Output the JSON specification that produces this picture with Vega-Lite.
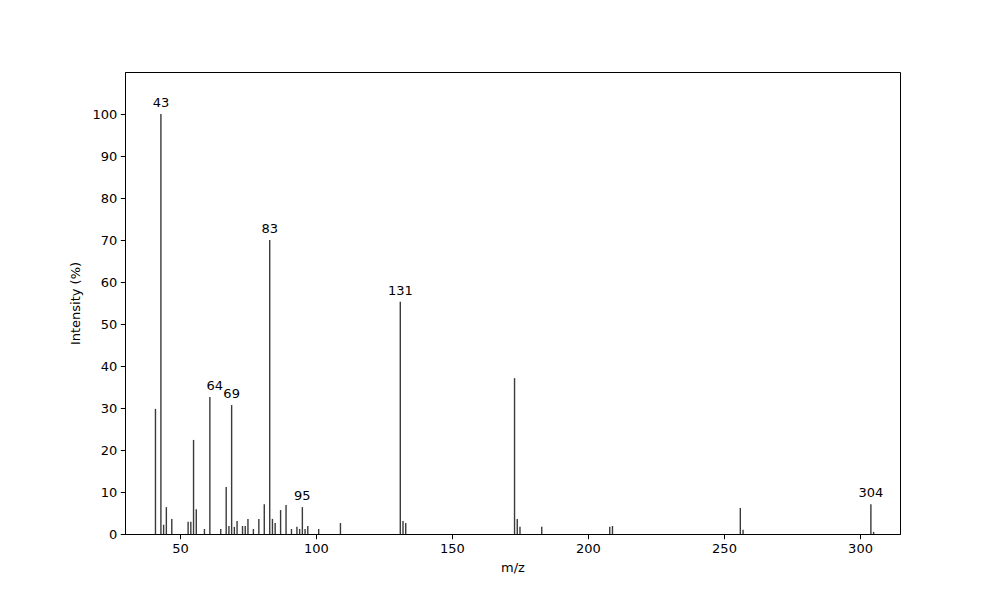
{
  "$schema": "https://vega.github.io/schema/vega-lite/v6.json",
  "description": "Mass spectrum, m/z vs relative intensity",
  "autosize": {"type": "none"},
  "padding": {"left": 125, "top": 72, "right": 100, "bottom": 66},
  "width": 775,
  "height": 462,
  "background": "white",
  "config": {
    "font": "DejaVu Sans",
    "view": {"stroke": "black", "strokeWidth": 1},
    "axis": {
      "grid": false,
      "domainColor": "black",
      "tickColor": "black",
      "tickSize": 4.7,
      "labelPadding": 3.5,
      "labelFontSize": 13,
      "labelColor": "black",
      "titleFontSize": 13,
      "titleFontWeight": "normal",
      "titleColor": "black"
    }
  },
  "datasets": {
    "peaks": [
      {"mz": 41, "intensity": 29.8},
      {"mz": 43, "intensity": 100},
      {"mz": 44, "intensity": 2.2},
      {"mz": 45, "intensity": 6.4},
      {"mz": 47, "intensity": 3.6},
      {"mz": 53, "intensity": 2.9},
      {"mz": 54, "intensity": 2.9},
      {"mz": 55, "intensity": 22.4},
      {"mz": 56, "intensity": 5.9},
      {"mz": 59, "intensity": 1.2},
      {"mz": 61, "intensity": 32.6},
      {"mz": 65, "intensity": 1.2},
      {"mz": 67, "intensity": 11.2},
      {"mz": 68, "intensity": 1.9},
      {"mz": 69, "intensity": 30.7},
      {"mz": 70, "intensity": 1.7},
      {"mz": 71, "intensity": 3.1},
      {"mz": 73, "intensity": 1.9},
      {"mz": 74, "intensity": 1.9},
      {"mz": 75, "intensity": 3.6},
      {"mz": 77, "intensity": 1.2},
      {"mz": 79, "intensity": 3.6},
      {"mz": 81, "intensity": 7.1},
      {"mz": 83, "intensity": 70},
      {"mz": 84, "intensity": 3.6},
      {"mz": 85, "intensity": 2.6},
      {"mz": 87, "intensity": 5.7},
      {"mz": 89, "intensity": 6.9},
      {"mz": 91, "intensity": 1.2},
      {"mz": 93, "intensity": 1.7},
      {"mz": 94, "intensity": 1.2},
      {"mz": 95, "intensity": 6.4},
      {"mz": 96, "intensity": 1.2},
      {"mz": 97, "intensity": 1.9},
      {"mz": 101, "intensity": 1.2},
      {"mz": 109, "intensity": 2.6},
      {"mz": 131, "intensity": 55.3},
      {"mz": 132, "intensity": 3.1},
      {"mz": 133, "intensity": 2.6},
      {"mz": 173, "intensity": 37.1},
      {"mz": 174, "intensity": 3.6},
      {"mz": 175, "intensity": 1.7},
      {"mz": 183, "intensity": 1.7},
      {"mz": 208, "intensity": 1.7},
      {"mz": 209, "intensity": 1.9},
      {"mz": 256, "intensity": 6.2},
      {"mz": 257, "intensity": 1.0},
      {"mz": 304, "intensity": 7.1},
      {"mz": 305, "intensity": 0.5}
    ],
    "labels": [
      {"mz": 43, "intensity": 100, "label": "43"},
      {"mz": 62.8, "intensity": 32.6, "label": "64"},
      {"mz": 69, "intensity": 30.7, "label": "69"},
      {"mz": 83, "intensity": 70, "label": "83"},
      {"mz": 95, "intensity": 6.4, "label": "95"},
      {"mz": 131, "intensity": 55.3, "label": "131"},
      {"mz": 304, "intensity": 7.1, "label": "304"}
    ]
  },
  "layer": [
    {
      "data": {"name": "peaks"},
      "mark": {"type": "bar", "width": 1.4, "color": "#3a3a3a", "clip": true},
      "encoding": {
        "x": {
          "field": "mz",
          "type": "quantitative",
          "scale": {"domain": [29.8, 314.7], "nice": false, "zero": false, "padding": 0},
          "axis": {"values": [50, 100, 150, 200, 250, 300], "title": "m/z", "titlePadding": 6}
        },
        "y": {
          "field": "intensity",
          "type": "quantitative",
          "scale": {"domain": [0, 110], "nice": false},
          "axis": {
            "values": [0, 10, 20, 30, 40, 50, 60, 70, 80, 90, 100],
            "title": "Intensity (%)",
            "titlePadding": 9
          }
        }
      }
    },
    {
      "data": {"name": "labels"},
      "mark": {
        "type": "text",
        "baseline": "bottom",
        "align": "center",
        "dy": -4,
        "fontSize": 13,
        "color": "black"
      },
      "encoding": {
        "x": {"field": "mz", "type": "quantitative"},
        "y": {"field": "intensity", "type": "quantitative"},
        "text": {"field": "label"}
      }
    }
  ]
}
